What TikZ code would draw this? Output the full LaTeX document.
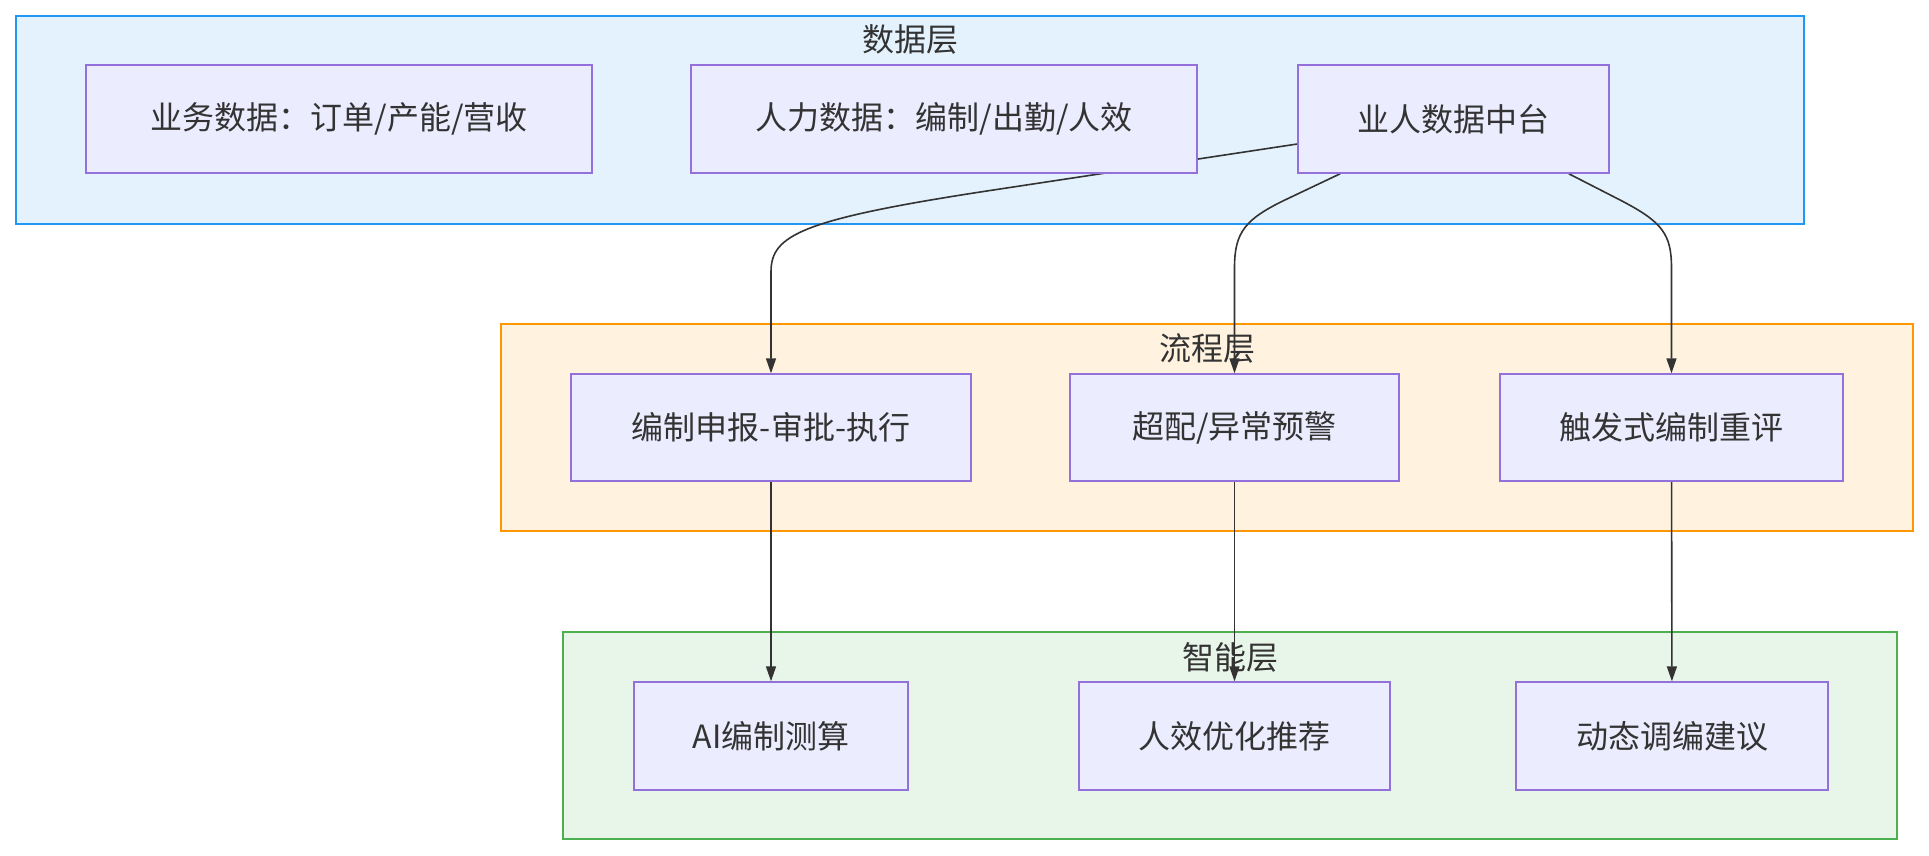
\documentclass[tikz,border=0pt]{standalone}
\usepackage{fontspec}
\setmainfont{Noto Sans CJK SC}
\usetikzlibrary{arrows.meta, positioning, calc}

\definecolor{nodefill}{HTML}{ECECFF}
\definecolor{nodeline}{HTML}{9370DB}
\definecolor{textgray}{HTML}{333333}
\definecolor{datafill}{HTML}{E3F2FD}
\definecolor{dataline}{HTML}{2196F3}
\definecolor{procfill}{HTML}{FFF3E0}
\definecolor{procline}{HTML}{FF9800}
\definecolor{aifill}{HTML}{E8F5E9}
\definecolor{ailine}{HTML}{4CAF50}

\pgfdeclarelayer{back}
\pgfdeclarelayer{mid}
\pgfsetlayers{back,mid,main}

\begin{document}
\begin{tikzpicture}[x=0.5pt, y=-0.5pt, >={Triangle[length=7.5pt, width=5pt]},
    box/.style={draw=nodeline, fill=nodefill, line width=0.7pt, text=textgray,
        font=\fontsize{16pt}{19pt}\selectfont, minimum height=54pt, inner sep=0pt},
    title/.style={text=textgray, font=\fontsize{16pt}{19pt}\selectfont, inner sep=0pt},
    edge/.style={draw=textgray, line width=0.8pt, ->}]

    % Define variables/coordinates
    \def\Ytop{119}
    \def\Ymid{427.5}
    \def\Ybot{736}

    \useasboundingbox (0,0) rectangle (1929,856);

    % Data layer
    \node[box, minimum width=253pt] (bizdata) at (339,\Ytop) {业务数据：订单/产能/营收};
    \node[box, minimum width=253pt] (hrdata) at (944,\Ytop) {人力数据：编制/出勤/人效};
    \node[box, minimum width=155.5pt] (hub) at (1453.5,\Ytop) {业人数据中台};

    % Process layer
    \node[box, minimum width=200pt, minimum height=53.5pt] (apply) at (771,\Ymid) {编制申报-审批-执行};
    \node[box, minimum width=164.5pt, minimum height=53.5pt] (warn) at (1234.5,\Ymid) {超配/异常预警};
    \node[box, minimum width=171.5pt, minimum height=53.5pt] (review) at (1671.5,\Ymid) {触发式编制重评};

    % Intelligence layer
    \node[box, minimum width=137pt] (aicalc) at (771,\Ybot) {AI编制测算};
    \node[box, minimum width=155.5pt] (optim) at (1234.5,\Ybot) {人效优化推荐};
    \node[box, minimum width=156pt] (adjust) at (1672,\Ybot) {动态调编建议};

    % Layer frames and titles
    \begin{pgfonlayer}{back}
        \draw[fill=datafill, draw=dataline, line width=0.8pt] (16,16) rectangle (1804,224);
        \node[title] (datatitle) at (910,39) {数据层};
        \draw[fill=procfill, draw=procline, line width=0.8pt] (501,324) rectangle (1913,531);
        \node[title] (proctitle) at (1207,348) {流程层};
        \draw[fill=aifill, draw=ailine, line width=0.8pt] (563,632) rectangle (1897,839);
        \node[title] (aititle) at (1230,657) {智能层};
    \end{pgfonlayer}

    % Connectors
    \begin{pgfonlayer}{mid}
        \draw[edge] ([yshift=-12.5pt]hub.west) -- (1000,189)
            .. controls (800,219) and (apply.north |- 0,235) .. (apply.north |- 0,272) -- (apply.north);
        \draw[edge] ([xshift=21.5pt]hub.south west) -- (1287,199)
            .. controls (1245,219) and (warn.north |- 0,232) .. (warn.north |- 0,268) -- (warn.north);
        \draw[edge] ([xshift=-20.5pt]hub.south east) -- (1622,201)
            .. controls (1662,222) and (review.north |- 0,234) .. (review.north |- 0,268) -- (review.north);
        \draw[edge] (apply) -- (aicalc);
        \draw[edge] (warn) -- (optim);
        \draw[edge] (review) -- (adjust);
    \end{pgfonlayer}

\end{tikzpicture}
\end{document}
